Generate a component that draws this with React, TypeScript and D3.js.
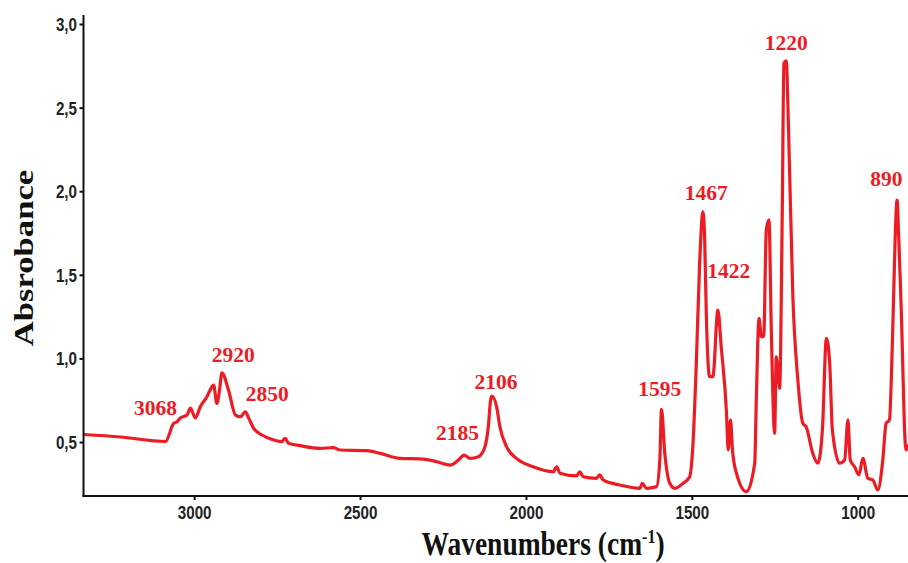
import React from "react";
import * as d3 from "d3";

const wavenumbers = [
  3335, 3224, 3088, 3063, 3053, 3043, 3023, 3013, 2998, 2983, 2963, 2948, 2943, 2933, 2925, 2918,
  2898, 2877, 2862, 2847, 2837, 2822, 2797, 2762, 2737, 2727, 2717, 2682, 2622, 2582, 2561, 2481,
  2441, 2381, 2311, 2270, 2230, 2205, 2188, 2170, 2145, 2125, 2115, 2108, 2104, 2090, 2080, 2060,
  2030, 1980, 1919, 1909, 1899, 1849, 1839, 1829, 1789, 1779, 1769, 1719, 1658, 1651, 1638, 1608,
  1598, 1593, 1583, 1568, 1553, 1528, 1508, 1498, 1488, 1478, 1468, 1463, 1458, 1448, 1438, 1423,
  1413, 1397, 1392, 1385, 1379, 1367, 1337, 1312, 1307, 1299, 1292, 1285, 1277, 1269, 1262, 1252,
  1247, 1237, 1229, 1224, 1217, 1210, 1197, 1182, 1167, 1157, 1137, 1122, 1108, 1096, 1086, 1078,
  1056, 1041, 1031, 1024, 1011, 998, 986, 971, 956, 941, 926, 916, 906, 896, 888, 883,
  878, 871, 856, 850,
];
const absorbance = [
  0.548, 0.533, 0.506, 0.615, 0.624, 0.647, 0.664, 0.705, 0.647, 0.714, 0.774, 0.834, 0.844, 0.734, 0.814, 0.917,
  0.814, 0.664, 0.654, 0.684, 0.645, 0.585, 0.545, 0.515, 0.505, 0.525, 0.495, 0.481, 0.465, 0.469, 0.455, 0.451,
  0.435, 0.405, 0.401, 0.385, 0.365, 0.395, 0.425, 0.405, 0.415, 0.475, 0.594, 0.754, 0.778, 0.714, 0.594, 0.475,
  0.405, 0.355, 0.325, 0.355, 0.316, 0.300, 0.325, 0.295, 0.286, 0.306, 0.276, 0.246, 0.226, 0.256, 0.226, 0.236,
  0.395, 0.699, 0.435, 0.256, 0.226, 0.256, 0.295, 0.495, 0.974, 1.572, 1.880, 1.731, 1.273, 0.894, 0.894, 1.292,
  1.073, 0.675, 0.455, 0.635, 0.455, 0.316, 0.206, 0.376, 0.774, 1.243, 1.133, 1.133, 1.771, 1.831, 1.173, 0.555,
  1.013, 0.824, 1.871, 2.768, 2.783, 2.369, 1.372, 0.874, 0.615, 0.594, 0.435, 0.376, 0.575, 1.123, 0.974, 0.575,
  0.376, 0.395, 0.635, 0.395, 0.355, 0.306, 0.405, 0.286, 0.276, 0.216, 0.395, 0.615, 0.635, 1.173, 1.771, 1.950,
  1.731, 1.333, 0.455, 0.480,
];

const peakLabels = ["3068", "2920", "2850", "2185", "2106", "1595", "1467", "1422", "1220", "890"];
const peakLabelX = [3118, 2884, 2781, 2208, 2092, 1598, 1458, 1390, 1217, 915];
const peakLabelY = [0.664, 0.981, 0.748, 0.515, 0.82, 0.778, 1.95, 1.484, 2.847, 2.034];

const xTicks = [3000, 2500, 2000, 1500, 1000];
const yTicks = [0.5, 1.0, 1.5, 2.0, 2.5, 3.0];

const W = 908;
const H = 563;
const RED = "#ED1C24";

export default function App() {
  const x = d3.scaleLinear().domain([3335, 850]).range([83.5, 908]);
  const y = d3.scaleLinear().domain([0.5, 3.0]).range([442.5, 24.5]);
  const yBottom = 496;
  const yTop = 15;
  const pts: [number, number][] = wavenumbers.map((w, i) => [w, absorbance[i]]);
  const line = d3
    .line<[number, number]>()
    .x((d) => x(d[0]))
    .y((d) => y(d[1]))
    .curve(d3.curveMonotoneX);

  const tickFont = "'Liberation Sans', Arial, sans-serif";
  const serif = "'Liberation Serif', 'Times New Roman', serif";

  return (
    <svg width={W} height={H} style={{ position: "absolute", left: 0, top: 0, background: "#fff" }}>
      <defs>
        <clipPath id="plot">
          <rect x={84} y={0} width={W - 84} height={yBottom - 1} />
        </clipPath>
      </defs>
      <path
        d={line(pts) || ""}
        fill="none"
        stroke={RED}
        strokeWidth={3.2}
        strokeLinejoin="round"
        strokeLinecap="round"
        clipPath="url(#plot)"
      />
      {/* axes */}
      <line x1={83.5} x2={83.5} y1={yTop} y2={yBottom + 1} stroke="#111" strokeWidth={2} />
      <line x1={82.5} x2={W} y1={yBottom} y2={yBottom} stroke="#111" strokeWidth={2} />
      {xTicks.map((t) => (
        <g key={"xt" + t}>
          <line x1={x(t)} x2={x(t)} y1={yBottom} y2={yBottom + 4} stroke="#111" strokeWidth={2} />
          <text
            transform={`translate(${x(t)},518.5) scale(1,1.18)`}
            textAnchor="middle"
            fontFamily={tickFont}
            fontWeight="bold"
            fontSize={15.2}
            fill="#222"
          >
            {t}
          </text>
        </g>
      ))}
      {yTicks.map((t) => (
        <g key={"yt" + t}>
          <line x1={79.5} x2={83.5} y1={y(t)} y2={y(t)} stroke="#111" strokeWidth={2} />
          <text
            transform={`translate(77,${y(t) + 6.5}) scale(1,1.18)`}
            textAnchor="end"
            fontFamily={tickFont}
            fontWeight="bold"
            fontSize={15.2}
            fill="#222"
          >
            {t.toFixed(1).replace(".", ",")}
          </text>
        </g>
      ))}
      {/* axis titles */}
      <text
        transform="translate(33,258) rotate(-90) scale(1.26,1)"
        textAnchor="middle"
        fontFamily={serif}
        fontWeight="bold"
        fontSize={27.5}
        fill="#111"
      >
        Absrobance
      </text>
      <text
        transform="translate(543,555) scale(1,1.2)"
        textAnchor="middle"
        fontFamily={serif}
        fontWeight="bold"
        fontSize={27.5}
        fill="#111"
      >
        Wavenumbers (cm
        <tspan fontSize={16} dy={-10}>
          -1
        </tspan>
        <tspan dy={10}>)</tspan>
      </text>
      {/* peak labels */}
      {peakLabels.map((lab, i) => (
        <text
          key={lab}
          x={x(peakLabelX[i])}
          y={y(peakLabelY[i])}
          textAnchor="middle"
          fontFamily={serif}
          fontWeight="bold"
          fontSize={21.5}
          fill={RED}
        >
          {lab}
        </text>
      ))}
    </svg>
  );
}
